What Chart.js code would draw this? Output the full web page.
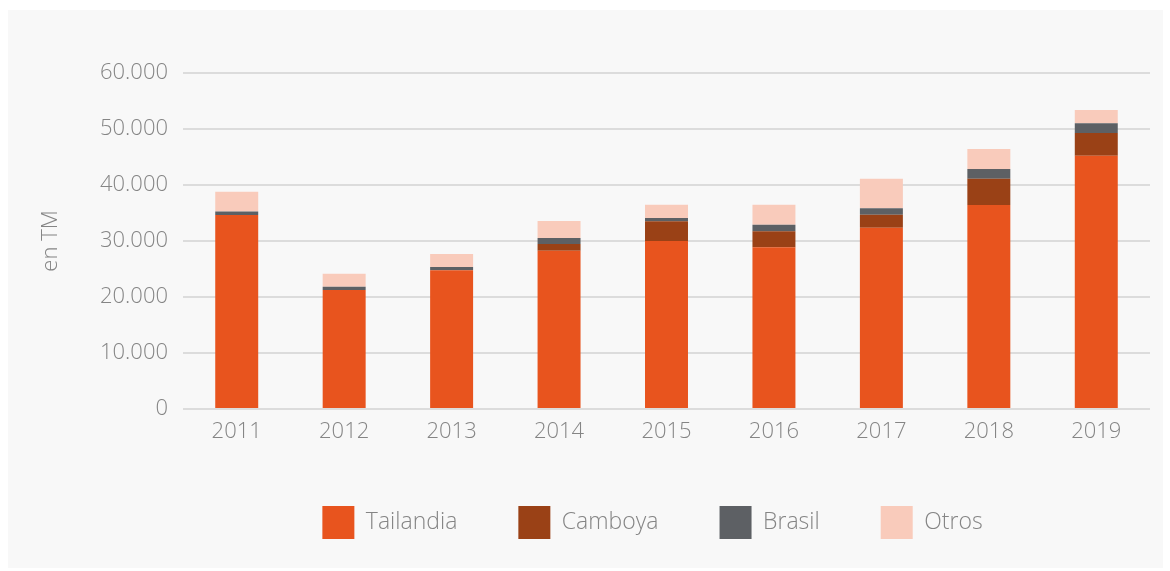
<!DOCTYPE html>
<html lang="es">
<head>
    <meta charset="UTF-8">
    <title>Importaciones en TM</title>
    <script src="https://cdn.jsdelivr.net/npm/chart.js"></script>
    <style>
        body {
            margin: 0;
            background-color: #ffffff;
        }

        .panel {
            position: absolute;
            left: 8px;
            top: 10px;
            width: 1155px;
            height: 558px;
            background-color: #f8f8f8;
        }
    </style>
</head>
<body>
    <div class="panel">
        <canvas id="chart" width="1155" height="558"></canvas>
    </div>

    <script>
        // datos por año (TM)
        const years = ['2011', '2012', '2013', '2014', '2015', '2016', '2017', '2018', '2019'];
        const tailandia = [34650, 21250, 24760, 28270, 30000, 28870, 32380, 36430, 45230];
        const camboya = [0, 0, 0, 1200, 3520, 2860, 2320, 4700, 4060];
        const brasil = [600, 600, 600, 1080, 590, 1180, 1140, 1730, 1730];
        const otros = [3550, 2300, 2300, 3030, 2380, 3580, 5290, 3570, 2370];

        const textColor = '#858585';
        const fontFamily = '"Open Sans", Lato, sans-serif';

        // separador de miles con punto
        function miles(v) {
            return String(v).replace(/\B(?=(\d{3})+(?!\d))/g, '.');
        }

        function serie(label, data, color) {
            return {
                label: label,
                data: data,
                backgroundColor: color,
                borderWidth: 0,
                barPercentage: 0.4,
                categoryPercentage: 1.0
            };
        }

        // desplaza la leyenda un poco a la izquierda del centro del área
        const legendOffset = {
            id: 'legendOffset',
            afterLayout(chart) {
                const lg = chart.legend;
                if (lg) {
                    lg.left -= 14;
                    lg.right -= 14;
                }
            }
        };

        const ctx = document.getElementById('chart').getContext('2d');
        new Chart(ctx, {
            type: 'bar',
            data: {
                labels: years,
                datasets: [
                    serie('Tailandia', tailandia, '#e8541e'),
                    serie('Camboya', camboya, '#9a4116'),
                    serie('Brasil', brasil, '#5d6064'),
                    serie('Otros', otros, '#f9cbbb')
                ]
            },
            plugins: [legendOffset],
            options: {
                responsive: false,
                animation: false,
                layout: {
                    padding: { left: 30, right: 13, top: 63, bottom: 19 }
                },
                plugins: {
                    tooltip: { enabled: false },
                    legend: {
                        position: 'bottom',
                        fullSize: false,
                        labels: {
                            boxWidth: 32,
                            boxHeight: 33,
                            padding: 61,
                            color: textColor,
                            font: { family: fontFamily, size: 23, weight: 300 }
                        }
                    }
                },
                scales: {
                    x: {
                        stacked: true,
                        grid: { display: false },
                        border: { display: false },
                        ticks: {
                            color: textColor,
                            padding: 2,
                            font: { family: fontFamily, size: 22, weight: 300 }
                        },
                        afterFit: function (scale) {
                            scale.height = 36;
                        }
                    },
                    y: {
                        stacked: true,
                        min: 0,
                        max: 60000,
                        border: { display: false },
                        grid: {
                            color: '#dcdcdc',
                            lineWidth: 2,
                            drawTicks: false
                        },
                        ticks: {
                            stepSize: 10000,
                            color: textColor,
                            padding: 15,
                            font: { family: fontFamily, size: 22, weight: 300 },
                            callback: function (value) {
                                return miles(value);
                            }
                        },
                        title: {
                            display: true,
                            text: 'en TM',
                            color: textColor,
                            padding: { top: 0, bottom: 31 },
                            font: { family: fontFamily, size: 22, weight: 300 }
                        },
                        afterFit: function (scale) {
                            scale.width = 145;
                        }
                    }
                }
            }
        });
    </script>
</body>
</html>
